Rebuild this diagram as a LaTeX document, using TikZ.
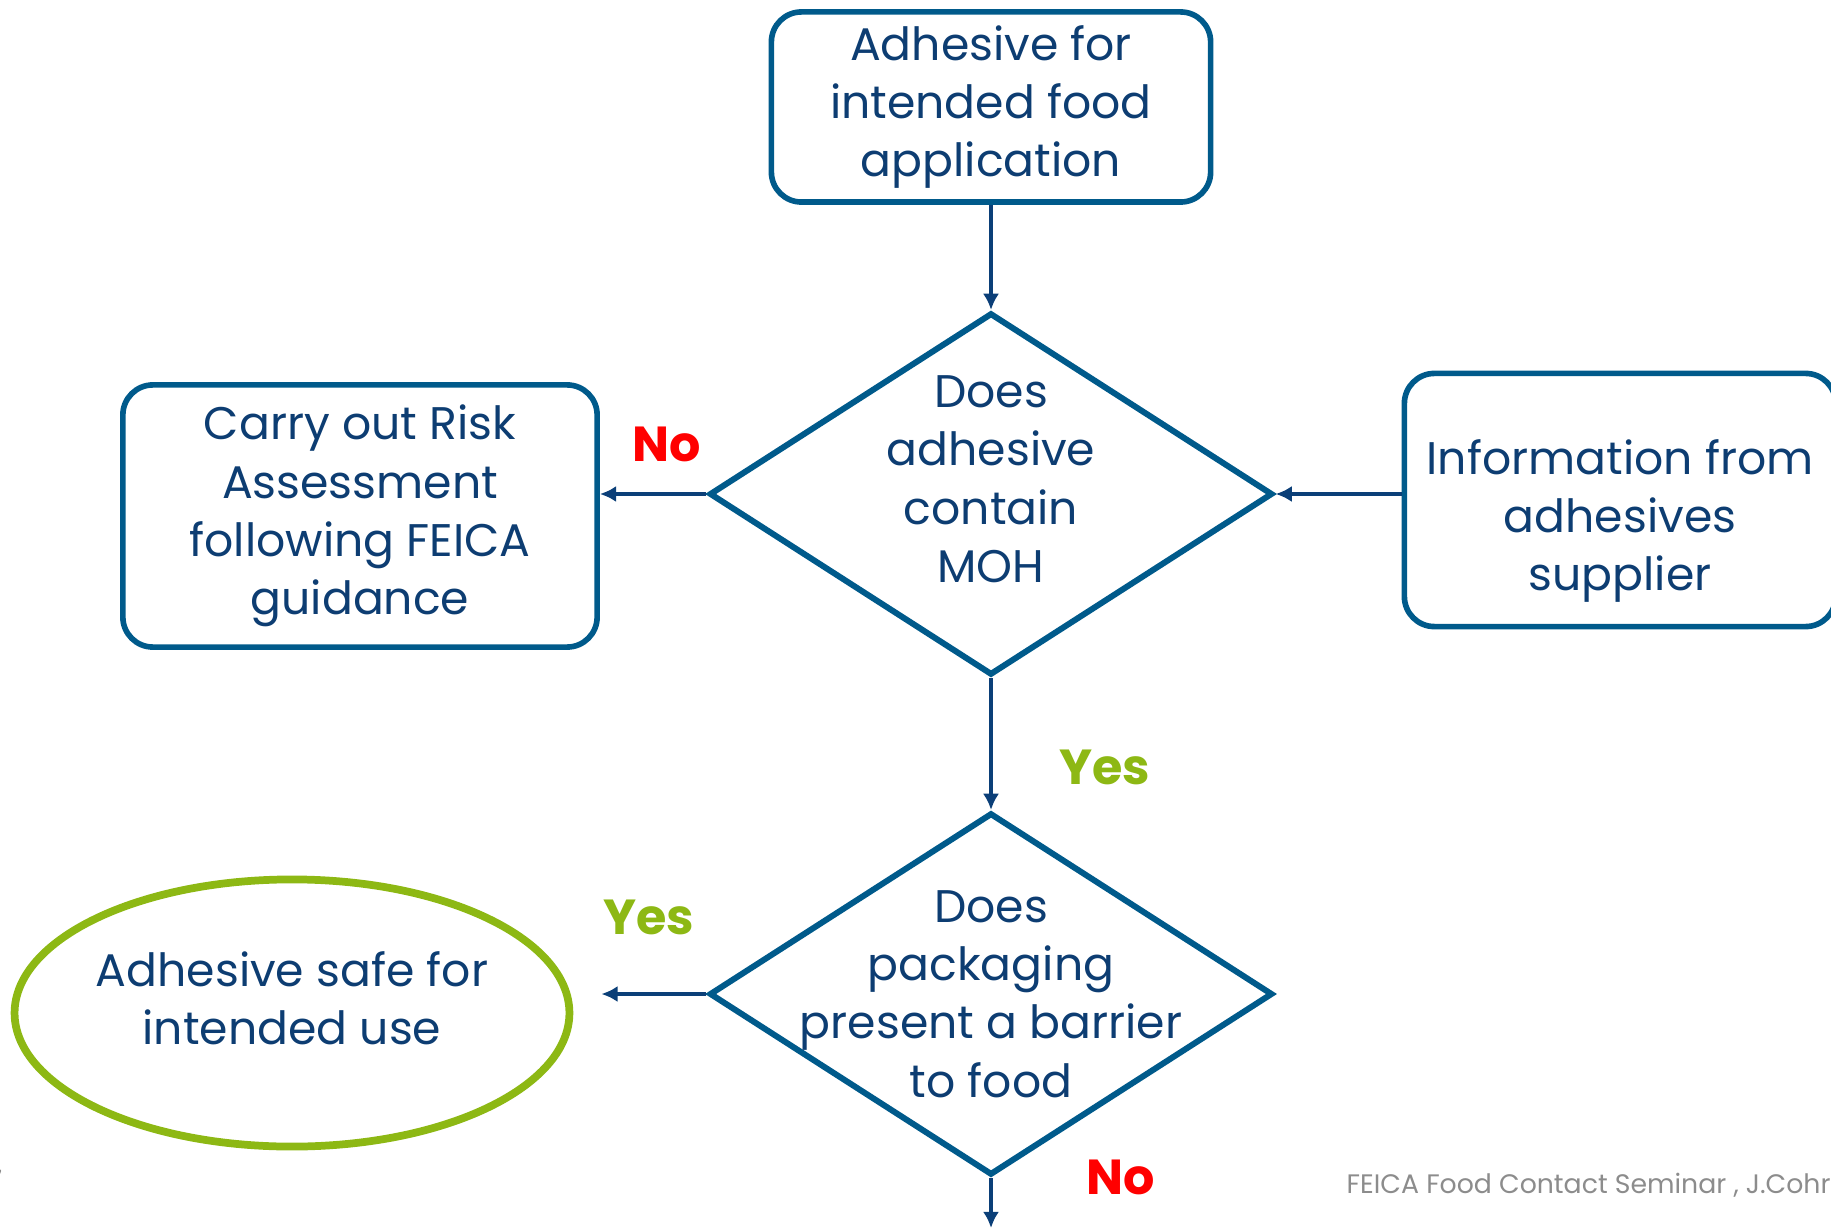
\documentclass[tikz,border=0pt]{standalone}
\usepackage{fontspec}
\setmainfont{Poppins}
\usetikzlibrary{arrows.meta}
\usetikzlibrary{calc}
\usetikzlibrary{shapes.geometric}
\definecolor{boxBlue}{HTML}{005A8B}
\definecolor{textBlue}{HTML}{0D3D72}
\definecolor{arrowBlue}{HTML}{0B3F78}
\definecolor{yesGreen}{HTML}{8DB814}
\definecolor{noRed}{HTML}{FF0000}
\definecolor{footGray}{HTML}{8C8C8C}
\newcommand{\drawFlowArrow}[2]{
	\draw[-{Latex[length=4.6pt,width=4.6pt]}, arrowBlue, line width=1.3pt] (#1) -- (#2);
}
\newcommand{\flowFont}{\fontsize{13}{16.6}\selectfont}
% struts that push a text block up or down inside its shape
\newcommand{\padTop}[1]{\rule{0pt}{#1}}
\newcommand{\padBottom}[1]{\rule[-#1]{0pt}{#1}}

\begin{document}
\begin{tikzpicture}[x=0.01cm, y=-0.01cm,
		flowbox/.style={draw=boxBlue, line width=1.6pt, rounded corners=0.3cm,
			text=textBlue, font=\flowFont, align=center, inner sep=0pt},
		question/.style={diamond, draw=boxBlue, line width=1.7pt, text=textBlue,
			font=\flowFont, align=center, inner xsep=-1.2cm, inner ysep=-0.6cm,
			minimum width=5.63cm, minimum height=3.62cm},
		answer/.style={font=\fontsize{14}{17}\selectfont\bfseries}]
		\useasboundingbox (0,0) rectangle (1831,1231);
		\clip (0,0) rectangle (1831,1231);

		\node[flowbox, minimum width=4.39cm, minimum height=1.9cm] (Start) at (991,107)
			{Adhesive for\\intended food\\application};
		\node[question] (HasMOH) at (991,494)
			{Does\\adhesive\\contain\\MOH\padBottom{0.30cm}};
		\node[flowbox, minimum width=4.74cm, minimum height=2.62cm] (RiskCheck) at (360,516)
			{Carry out Risk\\Assessment\\following FEICA\\guidance};
		\node[flowbox, minimum width=4.31cm, minimum height=2.53cm] (SupplierInfo) at (1620,500)
			{\padTop{0.77cm}Information from\\adhesives\\supplier};
		\node[question] (Barrier) at (991,994)
			{Does\\packaging\\present a barrier\\to food};
		\node[ellipse, draw=yesGreen, line width=2.2pt, text=textBlue, font=\flowFont,
			align=center, inner sep=0pt, minimum width=5.54cm, minimum height=2.67cm] (SafeUse) at (292,1013)
			{Adhesive safe for\\intended use\padBottom{0.30cm}};
		\coordinate (BarrierOut) at (991,1228);

		\drawFlowArrow{Start}{HasMOH}
		\drawFlowArrow{HasMOH.west}{HasMOH.west -| RiskCheck.east}
		\drawFlowArrow{SupplierInfo.west |- HasMOH.east}{HasMOH.east}
		\drawFlowArrow{HasMOH.south}{Barrier.north}
		\draw[-{Latex[length=4.6pt,width=4.6pt]}, arrowBlue, line width=1.3pt, shorten >=8]
			(Barrier.west) -- (Barrier.west -| SafeUse.east);
		\drawFlowArrow{Barrier.south}{BarrierOut}

		\node[answer, text=noRed] (NoRisk) at (667,444) {No};
		\node[answer, text=yesGreen] (YesMOH) at (1105,767) {Yes};
		\node[answer, text=yesGreen] (YesBarrier) at (649,917) {Yes};
		\node[answer, text=noRed] (NoBarrier) at (1121,1177) {No};

		\node[anchor=west, inner sep=0pt, text=footGray, font=\fontsize{7.6}{9}\selectfont] (Footer) at (1346,1185)
			{FEICA Food Contact Seminar , J.Cohrs};
		\node[anchor=east, inner sep=0pt, text=footGray, font=\fontsize{7.6}{9}\selectfont] (PageNo) at (3,1180) {7};

	\end{tikzpicture}
\end{document}
